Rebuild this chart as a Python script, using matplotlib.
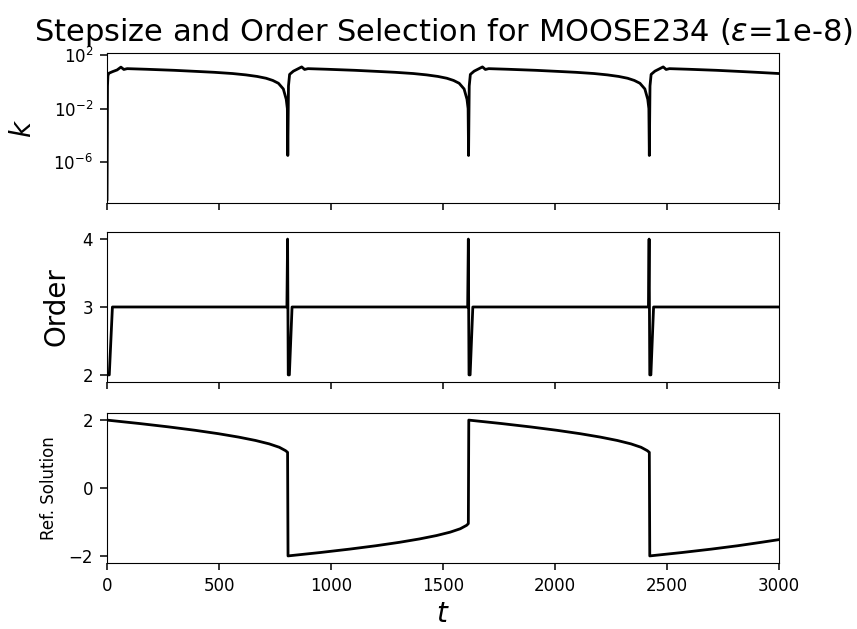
import matplotlib
matplotlib.use("Agg")
import matplotlib.pyplot as plt
from matplotlib.ticker import NullLocator

# step size k
k_t = [0, 2, 4, 8, 25, 45, 62, 75, 90, 175, 300, 400, 480, 560, 620, 670, 710, 740, 765, 787, 800, 805, 807,
       810, 815, 832, 869, 882, 897, 982, 1107, 1207, 1287, 1367, 1427, 1477, 1517, 1547, 1572, 1594, 1607, 1612, 1614,
       1617, 1622, 1639, 1676, 1689, 1704, 1789, 1914, 2014, 2094, 2174, 2234, 2284, 2324, 2354, 2379, 2401, 2414, 2419, 2421,
       2424, 2429, 2446, 2483, 2496, 2511, 2596, 2721, 2821, 2901, 3000]
k_val = [1.5e-9, 0.5, 3.0, 4.5, 6.0, 8.0, 13.0, 8.7, 10.0, 9.0, 7.5, 6.2, 5.3, 4.3, 3.4, 2.6, 1.9, 1.3, 0.8, 0.3, 0.05, 0.01, 3e-6,
         0.5, 3.7, 6.5, 13.5, 8.7, 10.0, 9.0, 7.5, 6.2, 5.3, 4.3, 3.4, 2.6, 1.9, 1.3, 0.8, 0.3, 0.05, 0.01, 3e-6,
         0.5, 3.7, 6.5, 13.5, 8.7, 10.0, 9.0, 7.5, 6.2, 5.3, 4.3, 3.4, 2.6, 1.9, 1.3, 0.8, 0.3, 0.05, 0.01, 3e-6,
         0.5, 3.7, 6.5, 13.5, 8.7, 10.0, 9.0, 7.5, 6.2, 5.3, 4.3]

# order selection
ord_t = [0, 10, 24, 803, 806, 809, 814, 826, 1610, 1613, 1616, 1621, 1633, 2417, 2420, 2423, 2428, 2440, 3000]
ord_val = [2, 2, 3, 3, 4, 2, 2, 3, 3, 4, 2, 2, 3, 3, 4, 2, 2, 3, 3]

# reference solution
ref_t = [0, 144, 275, 393, 497, 587, 663, 724, 769, 797, 806, 808,
         952, 1083, 1201, 1305, 1395, 1471, 1532, 1577, 1605, 1613, 1615,
         1759, 1890, 2008, 2112, 2202, 2278, 2339, 2384, 2412, 2421, 2423,
         2567, 2698, 2816, 2920, 3000]
ref_val = [2.0, 1.9, 1.8, 1.7, 1.6, 1.5, 1.4, 1.3, 1.2, 1.1, 1.05, -2.0,
           -1.9, -1.8, -1.7, -1.6, -1.5, -1.4, -1.3, -1.2, -1.1, -1.05, 2.0,
           1.9, 1.8, 1.7, 1.6, 1.5, 1.4, 1.3, 1.2, 1.1, 1.05, -2.0,
           -1.9, -1.8, -1.7, -1.6, -1.52]

fig = plt.figure(figsize=(8.57, 6.29), dpi=100)
left, width, height = 0.1249, 0.7841, 0.2375
ax1 = fig.add_axes([left, 0.6777, width, height])
ax2 = fig.add_axes([left, 0.3932, width, height], sharex=ax1)
ax3 = fig.add_axes([left, 0.1054, width, height], sharex=ax1)

ax1.semilogy(k_t, k_val, color="black", lw=2)
ax1.set_ylim(10**-9.07, 10**2.15)
ax1.set_yticks([1e2, 1e-2, 1e-6])
ax1.yaxis.set_minor_locator(NullLocator())
ax1.set_ylabel("$k$", fontsize=20, labelpad=12)
ax1.set_title(r"Stepsize and Order Selection for MOOSE234 ($\varepsilon$=1e-8)", fontsize=22, pad=9)

ax2.plot(ord_t, ord_val, color="black", lw=2)
ax2.set_yticks([2, 3, 4])
ax2.set_ylabel("Order", fontsize=20, labelpad=9)

ax3.plot(ref_t, ref_val, color="black", lw=2)
ax3.set_yticks([-2, 0, 2])
ax3.set_ylabel("Ref. Solution", fontsize=12, labelpad=8)
ax3.set_xlabel("$t$", fontsize=20)
ax3.set_xlim(0, 3000)

for ax in (ax1, ax2, ax3):
    ax.tick_params(labelsize=12, length=5, width=1.1, pad=5)
for ax in (ax1, ax2):
    ax.tick_params(labelbottom=False)

fig.savefig("out.png", dpi=100)
